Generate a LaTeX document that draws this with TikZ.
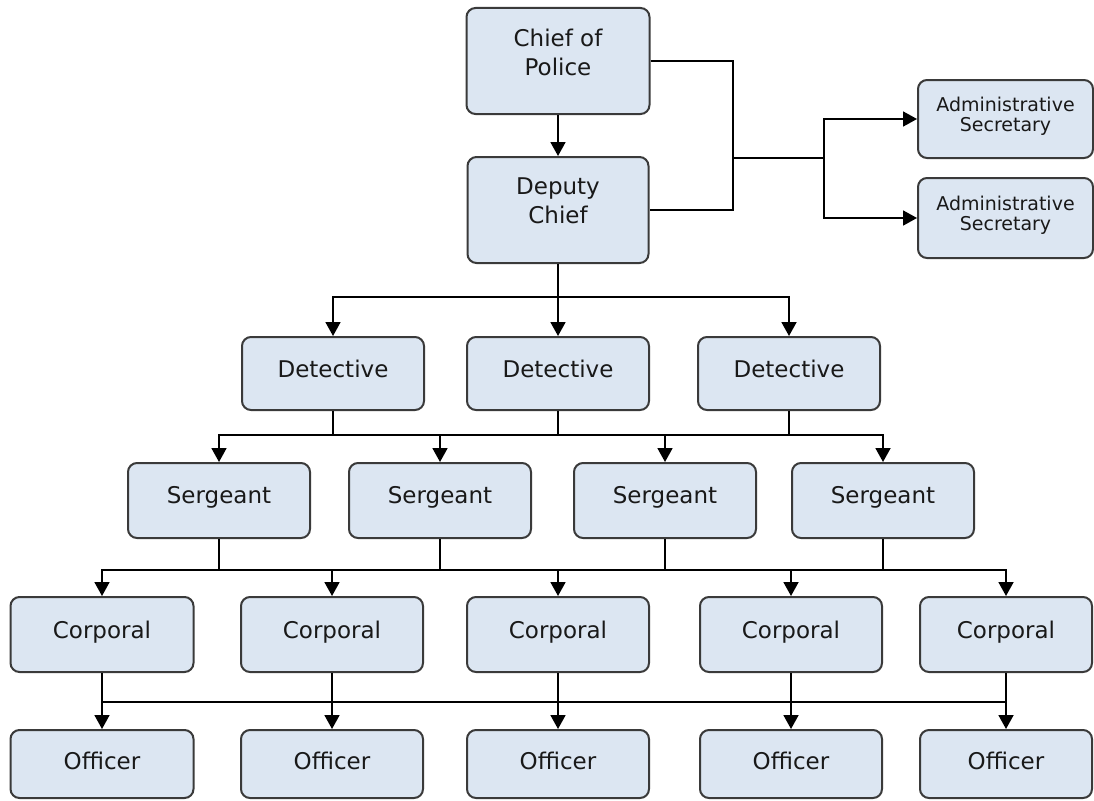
\documentclass[tikz,border=0pt]{standalone}
\usepackage{fontspec}
\setmainfont{DejaVu Sans}
\usetikzlibrary{arrows.meta}
\definecolor{boxfill}{RGB}{220,230,242}
\definecolor{boxline}{RGB}{58,58,58}
\begin{document}
\begin{tikzpicture}[x=1pt,y=-1pt,
  orgbox/.style={draw=boxline, line width=2pt, fill=boxfill, rounded corners=9pt, inner sep=0pt},
  txt/.style={font=\fontsize{23}{29}\selectfont, align=center, inner sep=0pt, text=black!90},
  smalltxt/.style={font=\fontsize{19}{20}\selectfont, align=center, inner sep=0pt, text=black!90},
  conn/.style={line width=1.8pt, black},
  arr/.style={conn, -{Triangle[width=15pt,length=14pt]}}]
\useasboundingbox (0,0) rectangle (1094,800);
% top
\node[orgbox, minimum width=183pt, minimum height=106pt, label={[txt,name=chiefT,yshift=9pt]center:Chief of\\Police}] (chief) at (558,61) {};
\node[orgbox, minimum width=181pt, minimum height=106pt, label={[txt,name=deputyT,yshift=9pt]center:Deputy\\Chief}] (deputy) at (558,210) {};
\node[orgbox, minimum width=175pt, minimum height=78pt, label={[smalltxt,name=a1T,yshift=3pt]center:Administrative\\Secretary}] (a1) at (1005.5,119) {};
\node[orgbox, minimum width=175pt, minimum height=80pt, label={[smalltxt,name=a2T,yshift=3pt]center:Administrative\\Secretary}] (a2) at (1005.5,218) {};
% detectives
\foreach \n/\x in {d1/333,d2/558,d3/789}
  \node[orgbox, minimum width=182pt, minimum height=73pt, label={[txt,name=\n T,yshift=5pt]center:Detective}] (\n) at (\x,373.5) {};
% sergeants
\foreach \n/\x in {s1/219,s2/440,s3/665,s4/883}
  \node[orgbox, minimum width=182pt, minimum height=75pt, label={[txt,name=\n T,yshift=3pt]center:Sergeant}] (\n) at (\x,500.5) {};
% corporals
\foreach \n/\x/\w in {c1/102/183,c2/332/182,c3/558/182,c4/791/182,c5/1006/172}
  \node[orgbox, minimum width=\w pt, minimum height=75pt, label={[txt,name=\n T,yshift=2pt]center:Corporal}] (\n) at (\x,634.5) {};
% officers
\foreach \n/\x/\w in {o1/102/183,o2/332/182,o3/558/182,o4/791/182,o5/1006/172}
  \node[orgbox, minimum width=\w pt, minimum height=68pt, label={[txt,name=\n T,yshift=3pt]center:Officer}] (\n) at (\x,764) {};
% junction coordinates
\coordinate (jx) at (733,158);
\coordinate (ja) at (824,158);
\coordinate (b0) at (558,297);
\coordinate (b1) at (558,435);
\coordinate (b2) at (558,570);
\coordinate (b3) at (558,702);
% connectors
\draw[arr] (chief) -- (deputy);
\draw[conn] (chief.east) -| (jx) |- (deputy.east);
\draw[conn] (jx) -- (ja);
\draw[arr] (ja) |- (a1.west);
\draw[arr] (ja) |- (a2.west);
\draw[conn] (deputy.south) -- (b0);
\foreach \n in {d1,d2,d3} \draw[arr] (b0) -| (\n.north);
\foreach \n in {d1,d2,d3} \draw[conn] (\n.south) |- (b1);
\foreach \n in {s1,s2,s3,s4} \draw[arr] (b1) -| (\n.north);
\foreach \n in {s1,s2,s3,s4} \draw[conn] (\n.south) |- (b2);
\foreach \n in {c1,c2,c3,c4,c5} \draw[arr] (b2) -| (\n.north);
\foreach \n in {c1,c2,c3,c4,c5} \draw[conn] (\n.south) |- (b3);
\foreach \n in {o1,o2,o3,o4,o5} \draw[arr] (b3) -| (\n.north);
\end{tikzpicture}
\end{document}
